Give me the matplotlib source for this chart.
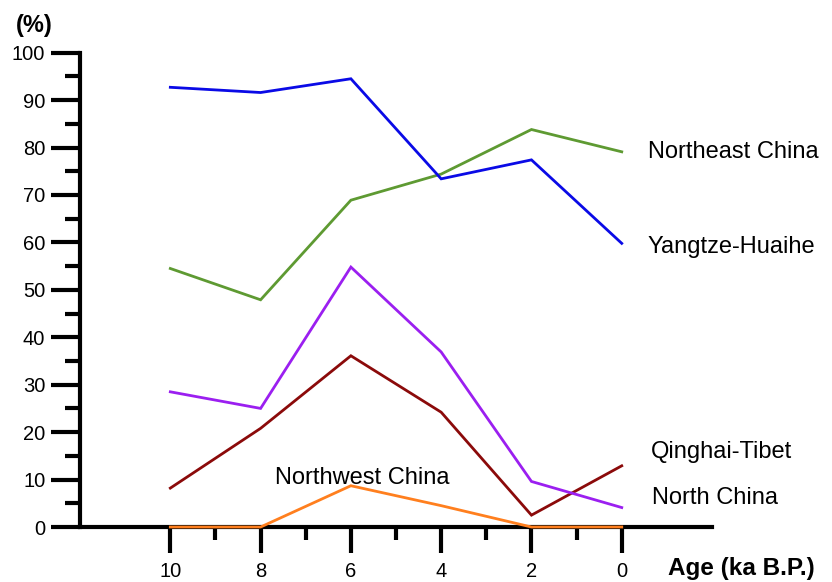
import matplotlib.pyplot as plt
from matplotlib.ticker import MultipleLocator

plt.rcParams['font.family'] = ['Liberation Sans', 'DejaVu Sans']

age = [10, 8, 6, 4, 2, 0]
yangtze_huaihe = [92.7, 91.6, 94.5, 73.4, 77.4, 59.8]
northeast_china = [54.5, 47.9, 68.9, 74.4, 83.8, 79.1]
north_china = [28.5, 25.0, 54.8, 36.9, 9.6, 4.1]
qinghai_tibet = [8.2, 20.8, 36.1, 24.2, 2.5, 12.9]
northwest_china = [0, 0, 8.7, 4.5, 0, 0]

series = [
    (northwest_china, "#ff7f1e"),
    (qinghai_tibet, "#8b0a0a"),
    (north_china, "#9b1ff0"),
    (northeast_china, "#5e9a32"),
    (yangtze_huaihe, "#0a0ae6"),
]

fig = plt.figure(figsize=(8.32, 5.82), dpi=100)
ax = fig.add_axes([0.0962, 0.0945, 0.7596, 0.815])

for vals, col in series:
    ax.plot(age, vals, color=col, lw=2, solid_joinstyle='miter', zorder=3,
            clip_on=False)

ax.set_xlim(12, -2)
ax.set_ylim(0, 100)
ax.spines['top'].set_visible(False)
ax.spines['right'].set_visible(False)
ax.spines['left'].set_linewidth(3)
ax.spines['bottom'].set_linewidth(3)

ax.yaxis.set_major_locator(MultipleLocator(10))
ax.yaxis.set_minor_locator(MultipleLocator(5))
ax.set_xticks(age)
ax.set_xticks([9, 7, 5, 3, 1], minor=True)
ax.tick_params(axis='x', which='major', length=19, width=3, direction='out',
               labelsize=14.5, pad=6)
ax.tick_params(axis='x', which='minor', length=9, width=3, direction='out')
ax.tick_params(axis='y', which='major', length=21, width=3, direction='out',
               labelsize=14.5, pad=4)
ax.tick_params(axis='y', which='minor', length=11, width=3, direction='out')

fig.text(0.041, 0.957, "(%)", fontsize=17, fontweight='bold',
         ha='center', va='center')
fig.text(0.8915, 0.024, "Age (ka B.P.)", fontsize=17.5, fontweight='bold',
         ha='center', va='center')

labels = [
    ("Northeast China", 648, 152),
    ("Yangtze-Huaihe", 648, 247),
    ("Qinghai-Tibet", 651, 452),
    ("North China", 652, 498),
    ("Northwest China", 275, 478),
]
for txt, px, py in labels:
    fig.text(px / 832, 1 - py / 582, txt, fontsize=17, ha='left',
             va='center')

fig.savefig("out.png", dpi=100)
